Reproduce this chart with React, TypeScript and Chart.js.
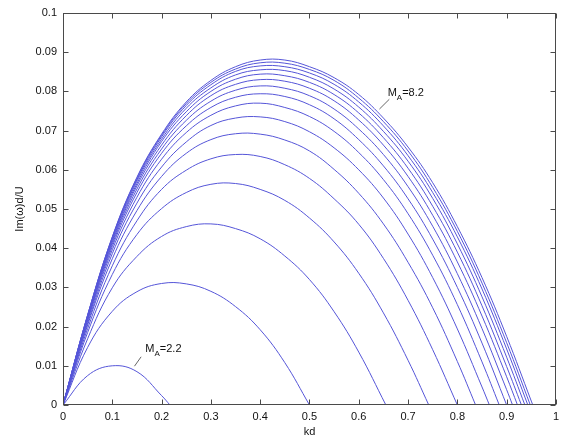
import React, { useEffect, useRef } from 'react';
import { Chart, registerables } from 'chart.js';

Chart.register(...registerables);

// shared kd sample grid
const KD = [0, 0.05, 0.1, 0.15, 0.2, 0.25, 0.3, 0.35, 0.4, 0.45, 0.5, 0.55, 0.6, 0.65, 0.7, 0.75, 0.8, 0.85, 0.9, 0.95];

// Alfven Mach numbers of the curves
const MACH = [2.2, 2.6, 3.0, 3.4, 3.8, 4.2, 4.6, 5.0, 5.4, 5.8, 6.2, 6.6, 7.0, 7.4, 7.8, 8.2];

// kd where each growth-rate curve returns to zero
const KD_CUTOFF = [0.217, 0.5, 0.655, 0.742, 0.8, 0.837, 0.865, 0.885, 0.9, 0.912, 0.922, 0.93, 0.937, 0.943, 0.948, 0.953];

// Im(omega)d/U sampled on KD, one array per Mach number
const GROWTH_M22 = [0, 0.0075, 0.0100, 0.0085, 0.0024];
const GROWTH_M26 = [0, 0.0147, 0.0239, 0.0289, 0.0310, 0.0309, 0.0290, 0.0251, 0.0192, 0.0108];
const GROWTH_M30 = [0, 0.0169, 0.0299, 0.0379, 0.0430, 0.0455, 0.0462, 0.0450, 0.0424, 0.0380, 0.0320, 0.0238, 0.0135];
const GROWTH_M34 = [0, 0.0185, 0.0333, 0.0435, 0.0501, 0.0542, 0.0563, 0.0565, 0.0550, 0.0522, 0.0477, 0.0416, 0.0336, 0.0235, 0.0114];
const GROWTH_M38 = [0, 0.0195, 0.0355, 0.0470, 0.0550, 0.0599, 0.0628, 0.0639, 0.0634, 0.0613, 0.0578, 0.0526, 0.0461, 0.0374, 0.0267, 0.0141];
const GROWTH_M42 = [0, 0.0204, 0.0373, 0.0496, 0.0583, 0.0642, 0.0677, 0.0692, 0.0691, 0.0676, 0.0648, 0.0601, 0.0540, 0.0462, 0.0364, 0.0248, 0.0111];
const GROWTH_M46 = [0, 0.0209, 0.0386, 0.0515, 0.0607, 0.0671, 0.0713, 0.0732, 0.0735, 0.0723, 0.0697, 0.0656, 0.0600, 0.0528, 0.0436, 0.0325, 0.0194, 0.0046];
const GROWTH_M50 = [0, 0.0215, 0.0396, 0.0530, 0.0627, 0.0695, 0.0739, 0.0763, 0.0770, 0.0759, 0.0736, 0.0698, 0.0644, 0.0575, 0.0488, 0.0382, 0.0256, 0.0110];
const GROWTH_M54 = [0, 0.0218, 0.0404, 0.0542, 0.0642, 0.0712, 0.0759, 0.0785, 0.0794, 0.0787, 0.0766, 0.0730, 0.0677, 0.0610, 0.0526, 0.0423, 0.0300, 0.0158];
const GROWTH_M58 = [0, 0.0221, 0.0410, 0.0551, 0.0653, 0.0726, 0.0775, 0.0803, 0.0814, 0.0808, 0.0789, 0.0755, 0.0704, 0.0639, 0.0557, 0.0456, 0.0335, 0.0195, 0.0039];
const GROWTH_M62 = [0, 0.0223, 0.0415, 0.0559, 0.0663, 0.0738, 0.0789, 0.0818, 0.0830, 0.0826, 0.0808, 0.0776, 0.0727, 0.0663, 0.0583, 0.0484, 0.0365, 0.0227, 0.0072];
const GROWTH_M66 = [0, 0.0226, 0.0419, 0.0565, 0.0672, 0.0748, 0.0800, 0.0831, 0.0844, 0.0840, 0.0823, 0.0792, 0.0745, 0.0682, 0.0604, 0.0507, 0.0390, 0.0253, 0.0098];
const GROWTH_M70 = [0, 0.0227, 0.0423, 0.0571, 0.0678, 0.0757, 0.0809, 0.0842, 0.0855, 0.0853, 0.0836, 0.0806, 0.0760, 0.0698, 0.0622, 0.0527, 0.0411, 0.0276, 0.0122];
const GROWTH_M74 = [0, 0.0229, 0.0426, 0.0575, 0.0684, 0.0764, 0.0817, 0.0851, 0.0865, 0.0863, 0.0847, 0.0818, 0.0773, 0.0712, 0.0636, 0.0542, 0.0429, 0.0296, 0.0143];
const GROWTH_M78 = [0, 0.0229, 0.0428, 0.0579, 0.0688, 0.0769, 0.0823, 0.0857, 0.0873, 0.0872, 0.0856, 0.0828, 0.0783, 0.0723, 0.0648, 0.0555, 0.0443, 0.0311, 0.0159];
const GROWTH_M82 = [0, 0.0230, 0.0429, 0.0581, 0.0691, 0.0773, 0.0828, 0.0863, 0.0880, 0.0880, 0.0863, 0.0835, 0.0792, 0.0732, 0.0658, 0.0567, 0.0455, 0.0325, 0.0175, 0.0010];

const GROWTH = [
  GROWTH_M22, GROWTH_M26, GROWTH_M30, GROWTH_M34, GROWTH_M38, GROWTH_M42, GROWTH_M46, GROWTH_M50,
  GROWTH_M54, GROWTH_M58, GROWTH_M62, GROWTH_M66, GROWTH_M70, GROWTH_M74, GROWTH_M78, GROWTH_M82,
];

const X_TICKS = [0, 0.1, 0.2, 0.3, 0.4, 0.5, 0.6, 0.7, 0.8, 0.9, 1];
const Y_TICKS = [0, 0.01, 0.02, 0.03, 0.04, 0.05, 0.06, 0.07, 0.08, 0.09, 0.1];

const X_TITLE = 'kd';
const Y_TITLE = 'Im(ω)d/U';

// labelled curves: Mach value text, leader line (data coords), text anchor (data coords)
const CURVE_LABELS = [
  { text: '8.2', from: [0.642, 0.0755], to: [0.662, 0.0780], at: [0.6586, 0.0797] },
  { text: '2.2', from: [0.145, 0.0099], to: [0.1585, 0.0123], at: [0.167, 0.0143] },
];

const FONT = "'Liberation Sans', Arial, sans-serif";
const LINE_COLOR = '#5555d8';
const AXIS_COLOR = '#4a4a4a';

const framePlugin = {
  id: 'matlabFrame',
  afterDatasetsDraw(chart: any) {
    const { ctx, chartArea: a, scales } = chart;
    const xs = scales.x;
    const ys = scales.y;
    const L = Math.round(a.left) + 0.5;
    const R = Math.round(a.right) - 0.5;
    const T = Math.round(a.top) + 0.5;
    const B = Math.round(a.bottom) - 0.5;
    ctx.save();
    ctx.strokeStyle = AXIS_COLOR;
    ctx.lineWidth = 1;
    ctx.strokeRect(L, T, R - L, B - T);
    const tl = 5;
    ctx.beginPath();
    X_TICKS.forEach((v) => {
      const px = Math.round(xs.getPixelForValue(v)) + 0.5;
      ctx.moveTo(px, B);
      ctx.lineTo(px, B - tl);
      ctx.moveTo(px, T);
      ctx.lineTo(px, T + tl);
    });
    Y_TICKS.forEach((v) => {
      const py = Math.round(ys.getPixelForValue(v)) + 0.5;
      ctx.moveTo(L, py);
      ctx.lineTo(L + tl, py);
      ctx.moveTo(R, py);
      ctx.lineTo(R - tl, py);
    });
    ctx.stroke();

    // curve labels
    CURVE_LABELS.forEach((lab) => {
      ctx.strokeStyle = '#666';
      ctx.beginPath();
      ctx.moveTo(xs.getPixelForValue(lab.from[0]), ys.getPixelForValue(lab.from[1]));
      ctx.lineTo(xs.getPixelForValue(lab.to[0]), ys.getPixelForValue(lab.to[1]));
      ctx.stroke();
      let tx = xs.getPixelForValue(lab.at[0]);
      const ty = ys.getPixelForValue(lab.at[1]);
      ctx.fillStyle = '#111';
      ctx.textBaseline = 'middle';
      ctx.textAlign = 'left';
      ctx.font = `11px ${FONT}`;
      ctx.fillText('M', tx, ty);
      tx += ctx.measureText('M').width;
      ctx.font = `8px ${FONT}`;
      ctx.fillText('A', tx, ty + 5);
      tx += ctx.measureText('A').width;
      ctx.font = `11px ${FONT}`;
      ctx.fillText('=' + lab.text, tx, ty);
    });

    // axis titles
    ctx.fillStyle = '#111';
    ctx.font = `11px ${FONT}`;
    ctx.textAlign = 'center';
    ctx.textBaseline = 'middle';
    ctx.fillText(X_TITLE, (a.left + a.right) / 2, 432);
    ctx.save();
    ctx.translate(20, (a.top + a.bottom) / 2);
    ctx.rotate(-Math.PI / 2);
    ctx.fillText(Y_TITLE, 0, 0);
    ctx.restore();
    ctx.restore();
  },
};

function fmt(v: number) {
  return String(Number(v.toFixed(3)));
}

export default function App() {
  const ref = useRef<HTMLCanvasElement | null>(null);

  useEffect(() => {
    document.body.style.margin = '0';
    const canvas = ref.current;
    if (!canvas) return;
    const datasets = GROWTH.map((vals, i) => {
      const pts = vals.map((v, j) => ({ x: KD[j], y: v }));
      pts.push({ x: KD_CUTOFF[i], y: 0 });
      return {
        label: 'M_A=' + MACH[i],
        data: pts,
        borderColor: LINE_COLOR,
        borderWidth: 1,
        pointRadius: 0,
        fill: false,
        tension: 0.4,
      };
    });
    const chart = new Chart(canvas, {
      type: 'line',
      data: { datasets },
      plugins: [framePlugin],
      options: {
        animation: false,
        responsive: false,
        parsing: false as any,
        layout: { padding: { top: 13, right: 4, left: 0, bottom: 0 } },
        plugins: { legend: { display: false }, tooltip: { enabled: false } },
        scales: {
          x: {
            type: 'linear',
            min: 0,
            max: 1,
            grid: { display: false, drawTicks: false },
            border: { display: false },
            afterBuildTicks: (s: any) => { s.ticks = X_TICKS.map((v) => ({ value: v })); },
            afterFit: (s: any) => { s.height = 36; },
            ticks: {
              padding: 5,
              autoSkip: false,
              maxRotation: 0,
              color: '#111',
              font: { family: FONT, size: 11 },
              callback: (v: any) => fmt(Number(v)),
            },
          },
          y: {
            type: 'linear',
            min: 0,
            max: 0.1,
            grid: { display: false, drawTicks: false },
            border: { display: false },
            afterBuildTicks: (s: any) => { s.ticks = Y_TICKS.map((v) => ({ value: v })); },
            afterFit: (s: any) => { s.width = 63; },
            ticks: {
              padding: 6,
              autoSkip: false,
              color: '#111',
              font: { family: FONT, size: 11 },
              callback: (v: any) => fmt(Number(v)),
            },
          },
        },
      },
    });
    return () => chart.destroy();
  }, []);

  return (
    <canvas
      ref={ref}
      width={564}
      height={441}
      style={{ display: 'block', width: 564, height: 441, background: '#fff' }}
    />
  );
}
